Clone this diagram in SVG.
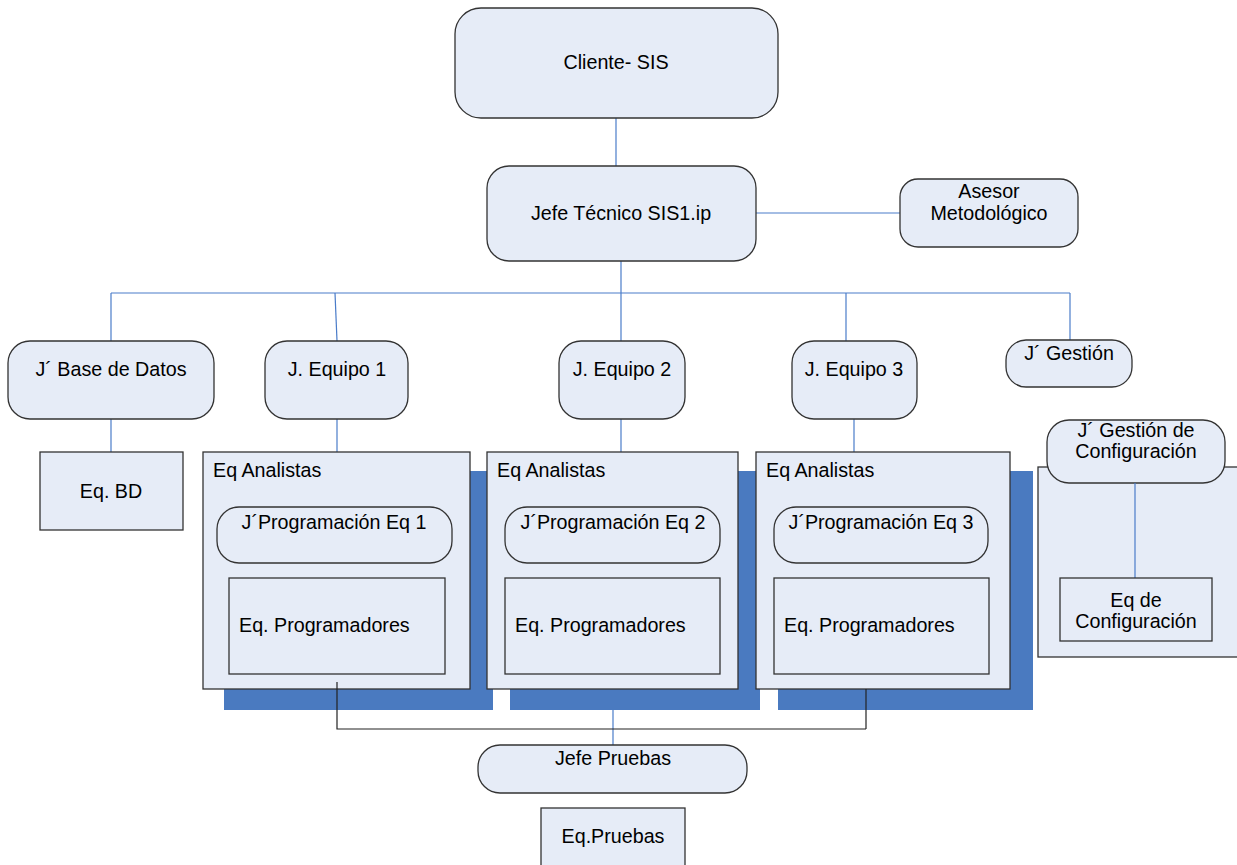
<svg xmlns="http://www.w3.org/2000/svg" width="1237" height="865" viewBox="0 0 1237 865">
<style>
.n{fill:#E6ECF7;stroke:#333;stroke-width:1.3}
.sh{fill:#4A7AC0;stroke:none}
.b{stroke:#4A7CC9;stroke-width:1.2;fill:none}
.k{stroke:#222;stroke-width:1.2;fill:none}
text{font-family:"Liberation Sans",Arial,sans-serif;font-size:19.7px;fill:#000}
.c{text-anchor:middle}
</style>
<rect width="1237" height="865" fill="#fff"/>
<g id="shadows">
<rect class="sh" x="224" y="471" width="269" height="239"/>
<rect class="sh" x="510" y="471" width="250" height="239"/>
<rect class="sh" x="778" y="471" width="255" height="239"/>
</g>
<g id="connectors">
<line class="b" x1="616" y1="118" x2="616" y2="166"/>
<line class="b" x1="756" y1="213" x2="900" y2="213"/>
<line class="b" x1="621" y1="261" x2="621" y2="293"/>
<line class="b" x1="111" y1="293" x2="1070" y2="293"/>
<line class="b" x1="111" y1="293" x2="111" y2="341"/>
<line class="b" x1="335" y1="293" x2="337" y2="341"/>
<line class="b" x1="621" y1="293" x2="621" y2="341"/>
<line class="b" x1="846" y1="293" x2="846" y2="341"/>
<line class="b" x1="1070" y1="293" x2="1070" y2="340"/>
<line class="b" x1="111" y1="419" x2="111" y2="452"/>
<line class="b" x1="337" y1="419" x2="337" y2="452"/>
<line class="b" x1="621" y1="419" x2="621" y2="452"/>
<line class="b" x1="854" y1="419" x2="854" y2="452"/>
<line class="b" x1="613" y1="710" x2="613" y2="745"/>
</g>
<g id="cliente"><rect class="n" x="455" y="8" width="323" height="110" rx="26"/><text class="c" x="616" y="69">Cliente- SIS</text></g>
<g id="jefe-tecnico"><rect class="n" x="487" y="166" width="269" height="95" rx="22"/><text class="c" x="621" y="220">Jefe Técnico SIS1.ip</text></g>
<g id="asesor"><rect class="n" x="900" y="179" width="178" height="68" rx="18"/><text class="c" x="989" y="198">Asesor</text><text class="c" x="989" y="220">Metodológico</text></g>
<g id="j-bd"><rect class="n" x="8" y="341" width="206" height="78" rx="22"/><text class="c" x="111" y="376">J´ Base de Datos</text></g>
<g id="j-eq1"><rect class="n" x="265" y="341" width="143" height="78" rx="22"/><text class="c" x="337" y="376">J. Equipo 1</text></g>
<g id="j-eq2"><rect class="n" x="559" y="341" width="126" height="78" rx="22"/><text class="c" x="622" y="376">J. Equipo 2</text></g>
<g id="j-eq3"><rect class="n" x="792" y="341" width="125" height="78" rx="22"/><text class="c" x="854" y="376">J. Equipo 3</text></g>
<g id="j-gestion"><rect class="n" x="1006" y="340" width="126" height="47" rx="20"/><text class="c" x="1069" y="360">J´ Gestión</text></g>
<g id="eq-bd"><rect class="n" x="40" y="452" width="143" height="78"/><text class="c" x="111" y="498">Eq. BD</text></g>
<g id="eq-analistas-1"><rect class="n" x="203" y="452" width="267" height="237"/><text x="213" y="477">Eq Analistas</text></g>
<g id="jprog-1"><rect class="n" x="217" y="507" width="235" height="56" rx="22"/><text class="c" x="334" y="529">J´Programación Eq 1</text></g>
<g id="eqprog-1"><rect class="n" x="229" y="578" width="216" height="96"/><text x="239" y="632">Eq. Programadores</text></g>
<g id="eq-analistas-2"><rect class="n" x="487" y="452" width="251" height="237"/><text x="497" y="477">Eq Analistas</text></g>
<g id="jprog-2"><rect class="n" x="505" y="507" width="215" height="56" rx="22"/><text class="c" x="613" y="529">J´Programación Eq 2</text></g>
<g id="eqprog-2"><rect class="n" x="505" y="578" width="215" height="96"/><text x="515" y="632">Eq. Programadores</text></g>
<g id="eq-analistas-3"><rect class="n" x="756" y="452" width="254" height="237"/><text x="766" y="477">Eq Analistas</text></g>
<g id="jprog-3"><rect class="n" x="774" y="507" width="214" height="56" rx="22"/><text class="c" x="881" y="529">J´Programación Eq 3</text></g>
<g id="eqprog-3"><rect class="n" x="774" y="578" width="215" height="96"/><text x="784" y="632">Eq. Programadores</text></g>
<g id="config-container"><rect class="n" x="1038" y="467" width="210" height="190"/></g>
<g id="j-gestion-config"><rect class="n" x="1047" y="420" width="178" height="63" rx="22"/><text class="c" x="1136" y="437">J´ Gestión de</text><text class="c" x="1136" y="458">Configuración</text></g>
<g id="config-link"><line class="b" x1="1135" y1="483" x2="1135" y2="578"/></g>
<g id="eq-config"><rect class="n" x="1060" y="578" width="152" height="63"/><text class="c" x="1136" y="607">Eq de</text><text class="c" x="1136" y="628">Configuración</text></g>
<g id="connectors-bottom"><polyline class="k" points="337,682 337,729 866,729"/><line class="k" x1="866" y1="689" x2="866" y2="729"/></g>
<g id="jefe-pruebas"><rect class="n" x="478" y="745" width="269" height="48" rx="22"/><text class="c" x="613" y="765">Jefe Pruebas</text></g>
<g id="eq-pruebas"><rect class="n" x="541" y="808" width="144" height="60"/><text class="c" x="613" y="843">Eq.Pruebas</text></g>
</svg>
